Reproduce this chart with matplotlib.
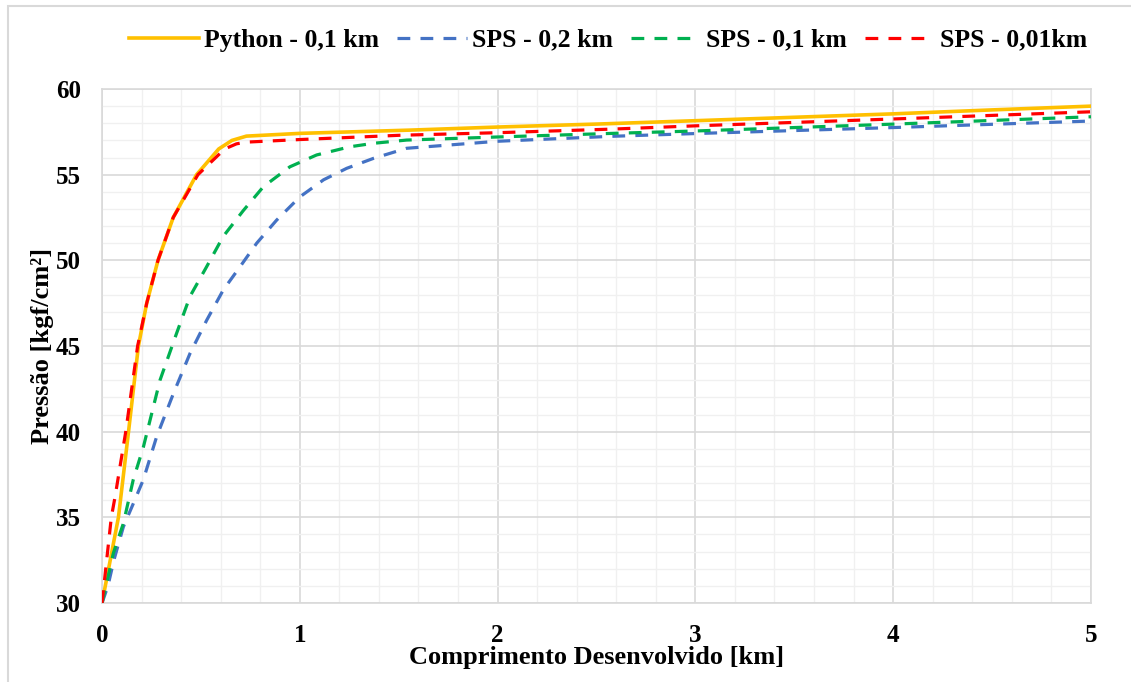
import matplotlib
matplotlib.use("Agg")
import matplotlib.pyplot as plt
from matplotlib.patches import Rectangle
from matplotlib.ticker import MultipleLocator

# --- DATA ---
py_x = [0, 0.083, 0.134, 0.184, 0.226, 0.283, 0.36, 0.478, 0.59, 0.657, 0.73,
        1.0, 1.557, 2.0, 2.52, 3.0, 3.5, 4.0, 4.5, 5.0]
py_y = [30, 35.0, 40.0, 45.0, 47.5, 50.0, 52.5, 55.0, 56.5, 57.0, 57.25,
        57.41, 57.6, 57.78, 57.96, 58.15, 58.35, 58.55, 58.78, 59.0]

sps02_x = [0, 0.03, 0.06, 0.108, 0.158, 0.209, 0.276, 0.36, 0.445, 0.529, 0.613, 0.698, 0.782,
           0.883, 1.0, 1.12, 1.237, 1.372, 1.54, 2.0, 2.58, 3.0, 4.0, 5.0]
sps02_y = [30, 31.0, 32.5, 34.45, 35.8, 37.2, 39.7, 42.2, 44.57, 46.5, 48.27, 49.63, 51.0,
           52.35, 53.7, 54.7, 55.37, 55.95, 56.54, 56.95, 57.24, 57.4, 57.75, 58.13]

sps01_x = [0, 0.02, 0.057, 0.108, 0.158, 0.209, 0.293, 0.377, 0.445, 0.529, 0.613, 0.714,
           0.816, 0.95, 1.085, 1.254, 1.372, 1.54, 2.0, 2.58, 3.0, 4.0, 5.0]
sps01_y = [30, 31.0, 32.9, 34.65, 37.2, 39.1, 43.0, 45.74, 47.9, 49.63, 51.4, 52.9,
           54.3, 55.46, 56.15, 56.63, 56.83, 57.02, 57.2, 57.41, 57.55, 57.95, 58.38]

sps001_x = [0, 0.047, 0.066, 0.12, 0.18, 0.226, 0.283, 0.36, 0.485, 0.62, 0.68, 0.73,
            1.0, 1.507, 2.0, 2.58, 3.0, 4.0, 5.0]
sps001_y = [30, 35.0, 36.2, 40.0, 45.0, 47.5, 50.0, 52.5, 55.0, 56.5, 56.8, 56.9,
            57.05, 57.3, 57.45, 57.66, 57.85, 58.25, 58.67]

labels = ["Python - 0,1 km", "SPS - 0,2 km", "SPS - 0,1 km", "SPS - 0,01km"]

plt.rcParams['font.family'] = ['Liberation Serif', 'DejaVu Serif']
plt.rcParams['font.weight'] = 'bold'

fig = plt.figure(figsize=(11.31, 6.82), dpi=100)
ax = fig.add_axes([0.0902, 0.1158, 0.8744, 0.7537])

dash = (4, 3.2)
ax.plot(py_x, py_y, color='#FFC000', lw=2.6, label=labels[0], zorder=3)
ax.plot(sps02_x, sps02_y, color='#4472C4', lw=2.3, dashes=dash, label=labels[1], zorder=4)
ax.plot(sps01_x, sps01_y, color='#00B050', lw=2.3, dashes=dash, label=labels[2], zorder=5)
ax.plot(sps001_x, sps001_y, color='#FF0000', lw=2.3, dashes=dash, label=labels[3], zorder=6)

ax.set_xlim(0, 5)
ax.set_ylim(30, 60)
ax.xaxis.set_major_locator(MultipleLocator(1))
ax.xaxis.set_minor_locator(MultipleLocator(0.2))
ax.yaxis.set_major_locator(MultipleLocator(5))
ax.yaxis.set_minor_locator(MultipleLocator(1))
ax.grid(which='major', color='#d9d9d9', lw=1.2)
ax.grid(which='minor', color='#f0f0f0', lw=1.0)
ax.set_axisbelow(True)
ax.tick_params(which='both', length=0, labelsize=18, pad=15)
for lbl in ax.get_xticklabels() + ax.get_yticklabels():
    lbl.set_fontweight('bold')
for sp in ax.spines.values():
    sp.set_color('#d9d9d9')
    sp.set_linewidth(1.2)

xl = ax.set_xlabel("Comprimento Desenvolvido [km]", fontsize=19, fontweight='bold')
xl.set_va('baseline')
ax.xaxis.set_label_coords(0.5, -0.119)
yl = ax.set_ylabel("Pressão [kgf/cm²]", fontsize=19, fontweight='bold')
yl.set_va('center')
ax.yaxis.set_label_coords(-0.06, 0.5)

fig.legend(loc='center left', bbox_to_anchor=(106 / 1131, 1 - 40 / 682), ncol=4, frameon=False,
           handlelength=2.7, handletextpad=0.22, columnspacing=0.7, borderpad=0.4,
           prop={'weight': 'bold', 'size': 18.5})

# chart-area border (left and top edges visible in the reference)
fig.patches.append(Rectangle((8 / 1131, -0.05), 1.2, 1 - 6 / 682 + 0.05, transform=fig.transFigure,
                             fill=False, edgecolor='#d9d9d9', lw=1.5))

fig.savefig("out.png", dpi=100)
